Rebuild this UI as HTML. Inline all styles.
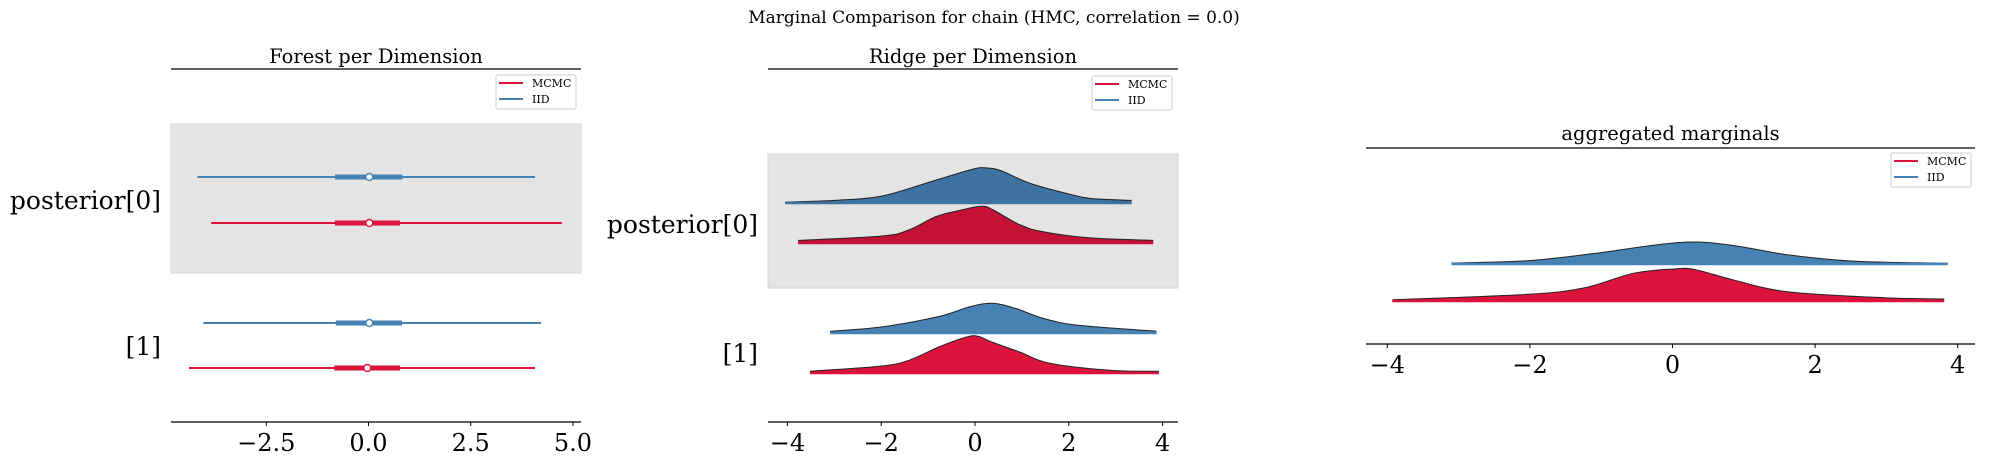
<!DOCTYPE html>
<html><head><meta charset="utf-8">
<style>
html,body{margin:0;padding:0;background:#fff;}
svg{display:block;font-family:"DejaVu Serif","Liberation Serif",serif;}
</style></head>
<body>
<svg id="fig" width="1990" height="465" viewBox="0 0 1990 465" xmlns="http://www.w3.org/2000/svg">
<text x="994" y="23" font-size="17" text-anchor="middle">Marginal Comparison for chain (HMC, correlation = 0.0)</text>
</svg>
<script>
// ---------- data ----------
const forestRows = ["posterior[0]", "[1]"];
const forestSeries = ["IID", "MCMC"];
const forestIIDLow = [-4.18, -4.04];
const forestIIDHigh = [4.07, 4.22];
const forestIIDQ1 = [-0.82, -0.80];
const forestIIDQ3 = [0.83, 0.82];
const forestIIDMed = [0.02, 0.02];
const forestMCMCLow = [-3.85, -4.39];
const forestMCMCHigh = [4.73, 4.07];
const forestMCMCQ1 = [-0.82, -0.84];
const forestMCMCQ3 = [0.77, 0.77];
const forestMCMCMed = [0.02, -0.03];
const forestTicks = [-2.5, 0.0, 2.5, 5.0];
const forestTickLabels = ["\u22122.5", "0.0", "2.5", "5.0"];

const ridgeTicks = [-4, -2, 0, 2, 4];
const ridgeTickLabels = ["\u22124", "\u22122", "0", "2", "4"];
const ridgeIID0X = [-4.05, -3, -1.98, -0.84, -0.02, 0.26, 0.55, 1.2, 2.1, 2.5, 3.34];
const ridgeIID0D = [0.01, 0.03, 0.08, 0.26, 0.39, 0.40, 0.37, 0.22, 0.09, 0.05, 0.03];
const ridgeMCMC0X = [-3.77, -1.98, -1.41, -0.84, -0.35, 0.14, 0.38, 0.95, 1.44, 2.42, 3.8];
const ridgeMCMC0D = [0.03, 0.08, 0.15, 0.30, 0.37, 0.42, 0.38, 0.21, 0.13, 0.06, 0.03];
const ridgeIID1X = [-3.09, -1.98, -0.76, -0.11, 0.38, 0.87, 1.44, 2.18, 3.87];
const ridgeIID1D = [0.02, 0.07, 0.19, 0.30, 0.34, 0.28, 0.17, 0.09, 0.02];
const ridgeMCMC1X = [-3.52, -1.98, -1.41, -0.76, -0.19, 0.06, 0.38, 0.95, 1.61, 2.91, 3.92];
const ridgeMCMC1D = [0.02, 0.08, 0.145, 0.30, 0.41, 0.42, 0.35, 0.24, 0.11, 0.03, 0.02];

const aggIIDX = [-3.1, -2.03, -1.12, -0.21, 0.36, 0.93, 1.61, 2.57, 3.86];
const aggIIDD = [0.012, 0.041, 0.129, 0.241, 0.275, 0.221, 0.116, 0.034, 0.009];
const aggMCMCX = [-3.93, -2.03, -1.23, -0.55, 0.02, 0.3, 0.87, 1.61, 2.97, 3.81];
const aggMCMCD = [0.016, 0.084, 0.166, 0.346, 0.40, 0.396, 0.26, 0.116, 0.041, 0.025];

// ---------- helpers ----------
const NS = "http://www.w3.org/2000/svg";
const svg = document.getElementById("fig");
function mk(tag, attrs, parent) {
  const e = document.createElementNS(NS, tag);
  for (const k in attrs) e.setAttribute(k, attrs[k]);
  (parent || svg).appendChild(e);
  return e;
}
const RED = "#dc143c", BLUE = "#4682b4";

function axisFrame(g, x0, x1, yTop, yBot, xs, ticks, labels, title, titleY) {
  const top = mk("line", {x1: x0, x2: x1, y1: yTop, y2: yTop, stroke: "#000", "stroke-width": 1.3}, g);
  
  
  const bot = mk("line", {x1: x0, x2: x1, y1: yBot, y2: yBot, stroke: "#000", "stroke-width": 1.3}, g);
  
  
  ticks.forEach((t, i) => {
    const tk = mk("line", {x1: xs(t), x2: xs(t), y1: yBot, y2: yBot + 4, stroke: "#000", "stroke-width": 1}, g);
    
    
    const tl = mk("text", {x: xs(t), y: yBot + 29, "font-size": 24, "text-anchor": "middle"}, g);
    tl.textContent = labels[i];
    
    
  });
  const tt = mk("text", {x: (x0 + x1) / 2, y: titleY, "font-size": 19.5, "text-anchor": "middle"}, g);
  tt.textContent = title;
  
  
}

function legend(g, x, y) {
  const box = mk("rect", {x: x, y: y, width: 80, height: 34, rx: 2, fill: "#fff", stroke: "#ccc", "stroke-width": 1}, g);
  
  
  [["MCMC", RED], ["IID", BLUE]].forEach((e, i) => {
    const ln = mk("line", {x1: x + 3, x2: x + 27, y1: y + 8 + i * 16, y2: y + 8 + i * 16, stroke: e[1], "stroke-width": 2}, g);
    
    
    const tx = mk("text", {x: x + 36, y: y + 12 + i * 16, "font-size": 11}, g);
    tx.textContent = e[0];
    
    
  });
}

function rowLabel(g, x, y, txt) {
  const t = mk("text", {x: x, y: y + 9, "font-size": 25, "text-anchor": "end"}, g);
  t.textContent = txt;
  
  
}

function smoothPath(pts) {
  let d = "M" + pts[0][0] + "," + pts[0][1];
  for (let i = 0; i < pts.length - 1; i++) {
    const p0 = pts[Math.max(i - 1, 0)], p1 = pts[i], p2 = pts[i + 1], p3 = pts[Math.min(i + 2, pts.length - 1)];
    const c1x = p1[0] + (p2[0] - p0[0]) / 6, c1y = p1[1] + (p2[1] - p0[1]) / 6;
    const c2x = p2[0] - (p3[0] - p1[0]) / 6, c2y = p2[1] - (p3[1] - p1[1]) / 6;
    d += " C" + c1x + "," + c1y + " " + c2x + "," + c2y + " " + p2[0] + "," + p2[1];
  }
  return d;
}

function ridge(g, xs, base, X, D, scale, color, name) {
  const pts = X.map((v, i) => [xs(v), base - D[i] * scale]);
  const top = smoothPath(pts);
  const d = "M" + xs(X[0]) + "," + base + " L" + top.slice(1) + " L" + xs(X[X.length - 1]) + "," + base + " Z";
  const f = mk("path", {d: d, fill: color, stroke: "none"}, g);
  
  
  const o = mk("path", {d: top, fill: "none", stroke: "#222", "stroke-width": 1, "stroke-linejoin": "round"}, g);
  
  
  const b = mk("line", {x1: xs(X[0]), x2: xs(X[X.length - 1]), y1: base, y2: base, stroke: color, "stroke-width": 2.5}, g);
  
  
}

// ---------- panel 1 : forest ----------
(function () {
  const g = mk("g", {});
  
  
  const x0 = 171, x1 = 581;
  const xs = v => 368.5 + v * 40.9;
  const band = mk("rect", {x: x0, y: 124, width: x1 - x0, height: 149, fill: "#e4e4e4", stroke: "#d6d6d6"}, g);
  
  
  axisFrame(g, x0, x1, 69, 422, xs, forestTicks, forestTickLabels, "Forest per Dimension", 63);
  const rowY = [[177, 223], [323, 368]];
  const labelY = [200, 346];
  forestRows.forEach((r, i) => {
    rowLabel(g, 161, labelY[i], r);
    const sets = [
      [forestIIDLow[i], forestIIDQ1[i], forestIIDMed[i], forestIIDQ3[i], forestIIDHigh[i], BLUE, "iid"],
      [forestMCMCLow[i], forestMCMCQ1[i], forestMCMCMed[i], forestMCMCQ3[i], forestMCMCHigh[i], RED, "mcmc"]
    ];
    sets.forEach((s, j) => {
      const y = rowY[i][j];
      const a = mk("line", {x1: xs(s[0]), x2: xs(s[4]), y1: y, y2: y, stroke: s[5], "stroke-width": 2}, g);
      
      
      const b = mk("line", {x1: xs(s[1]), x2: xs(s[3]), y1: y, y2: y, stroke: s[5], "stroke-width": 5}, g);
      
      
      const c = mk("circle", {cx: xs(s[2]), cy: y, r: 3.5, fill: "#fff", stroke: s[5], "stroke-width": 1.5}, g);
      
      
    });
  });
  legend(g, 496, 75);
})();

// ---------- panel 2 : ridge ----------
(function () {
  const g = mk("g", {});
  
  
  const x0 = 768, x1 = 1178;
  const xs = v => 975 + v * 46.9;
  const band = mk("rect", {x: x0, y: 154, width: x1 - x0, height: 134, fill: "#e4e4e4", stroke: "#d6d6d6"}, g);
  
  
  axisFrame(g, x0, x1, 69, 422, xs, ridgeTicks, ridgeTickLabels, "Ridge per Dimension", 63);
  rowLabel(g, 758, 224, "posterior[0]");
  rowLabel(g, 758, 353, "[1]");
  ridge(g, xs, 203, ridgeIID0X, ridgeIID0D, 87.5, "#3e72a0", "ridge-iid-0");
  ridge(g, xs, 243, ridgeMCMC0X, ridgeMCMC0D, 87.5, "#c41236", "ridge-mcmc-0");
  ridge(g, xs, 333, ridgeIID1X, ridgeIID1D, 87.5, BLUE, "ridge-iid-1");
  ridge(g, xs, 373, ridgeMCMC1X, ridgeMCMC1D, 87.5, RED, "ridge-mcmc-1");
  legend(g, 1092, 76);
})();

// ---------- panel 3 : aggregated ----------
(function () {
  const g = mk("g", {});
  
  
  const x0 = 1366, x1 = 1975;
  const xs = v => 1672.5 + v * 71.3;
  axisFrame(g, x0, x1, 148, 344, xs, ridgeTicks, ridgeTickLabels, "aggregated marginals", 140);
  ridge(g, xs, 264, aggIIDX, aggIIDD, 80, BLUE, "agg-iid");
  ridge(g, xs, 301, aggMCMCX, aggMCMCD, 80, RED, "agg-mcmc");
  legend(g, 1891, 153);
})();
</script>
</body></html>
